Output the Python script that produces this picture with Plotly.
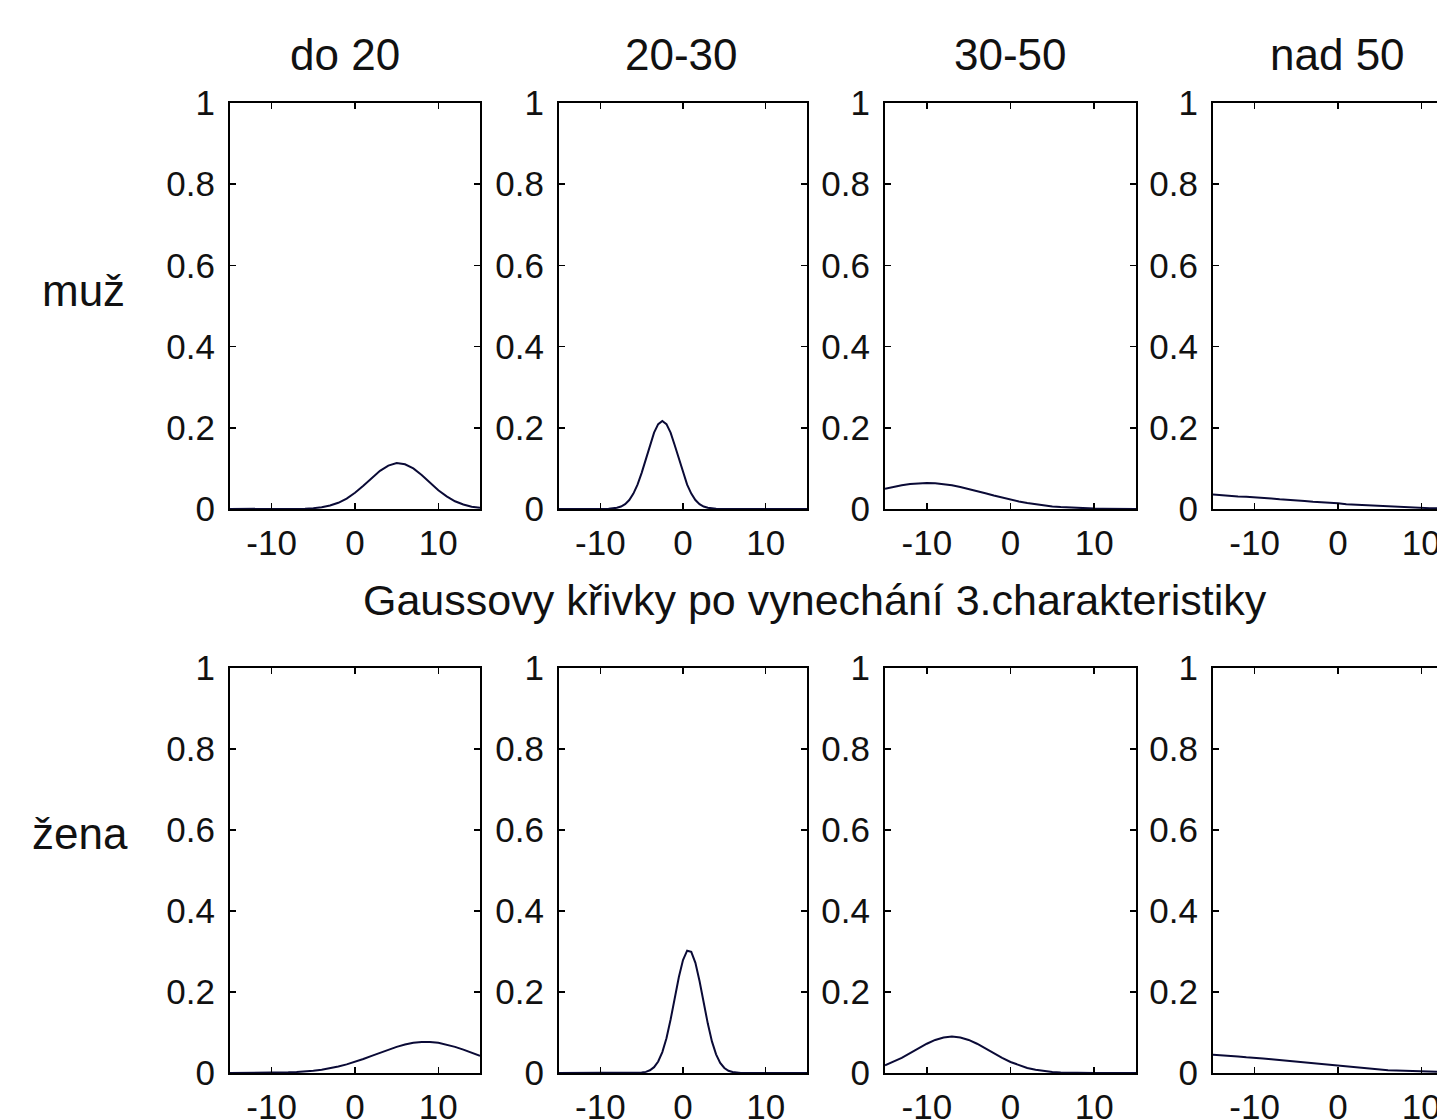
import plotly.graph_objects as go

# ---------------- data ----------------
age_groups = ["do 20", "20-30", "30-50", "nad 50"]
sexes = ["muž", "žena"]
main_title = "Gaussovy křivky po vynechání 3.charakteristiky"

x_tick_vals = [-10, 0, 10]
x_tick_labels = ["-10", "0", "10"]
y_tick_vals = [0, 0.2, 0.4, 0.6, 0.8, 1]
y_tick_labels = ["0", "0.2", "0.4", "0.6", "0.8", "1"]

x_grid = list(range(-15, 16))

# muž
x_muz_do20 = x_grid
y_muz_do20 = [0, 0, 0, 0, 0, 0, 0, 0.0001, 0.0004, 0.0009, 0.002, 0.0043, 0.0085,
              0.0153, 0.0257, 0.040, 0.057, 0.076, 0.094, 0.107, 0.113, 0.110,
              0.100, 0.084, 0.065, 0.046, 0.031, 0.019, 0.011, 0.0057, 0.0028]

x_muz_20_30 = [-15, -12, -10, -9, -8, -7.5, -7, -6.5, -6, -5.5, -5, -4.5, -4, -3.5,
               -3, -2.5, -2, -1.5, -1, -0.5, 0, 0.5, 1, 1.5, 2, 2.5, 3, 4, 6, 10, 15]
y_muz_20_30 = [0, 0, 0.0001, 0.0005, 0.0029, 0.0061, 0.012, 0.022, 0.038, 0.060,
               0.089, 0.123, 0.157, 0.188, 0.209, 0.217, 0.209, 0.188, 0.157, 0.123,
               0.089, 0.060, 0.038, 0.022, 0.012, 0.0061, 0.0029, 0.0005, 0, 0, 0]

x_muz_30_50 = x_grid
y_muz_30_50 = [0.0496, 0.0544, 0.0584, 0.0614, 0.0634, 0.064, 0.0634, 0.0614, 0.0584,
               0.0544, 0.0496, 0.0443, 0.0388, 0.0333, 0.028, 0.023, 0.0186, 0.0147,
               0.0115, 0.0087, 0.0064, 0.0047, 0.0034, 0.0023, 0.0016, 0.0011, 0.0007,
               0.0005, 0.0003, 0.0002, 0.0001]

x_muz_nad50 = x_grid
y_muz_nad50 = [0.036, 0.034, 0.033, 0.031, 0.030, 0.029, 0.027, 0.026, 0.024, 0.023,
               0.021, 0.020, 0.018, 0.017, 0.015, 0.014, 0.012, 0.011, 0.009, 0.008,
               0.007, 0.006, 0.005, 0.004, 0.003, 0.003, 0.002, 0.002, 0.001, 0.001,
               0.001]

# žena
x_zena_do20 = x_grid
y_zena_do20 = [0, 0, 0.0001, 0.0002, 0.0003, 0.0006, 0.001, 0.0016, 0.0025, 0.0038,
               0.0057, 0.0083, 0.0116, 0.0159, 0.0212, 0.0274, 0.0346, 0.0422, 0.050,
               0.0577, 0.0646, 0.0704, 0.0745, 0.0767, 0.0767, 0.0745, 0.0704, 0.0646,
               0.0577, 0.050, 0.0422]

x_zena_20_30 = [-15, -10, -7, -6, -5, -4.5, -4, -3.5, -3, -2.5, -2, -1.5, -1, -0.5, 0,
                0.5, 1, 1.5, 2, 2.5, 3, 3.5, 4, 4.5, 5, 5.5, 6, 7, 10, 15]
y_zena_20_30 = [0, 0, 0, 0.0001, 0.0011, 0.0028, 0.0067, 0.0144, 0.0284, 0.0517,
                0.086, 0.132, 0.184, 0.237, 0.279, 0.302, 0.299, 0.272, 0.227, 0.173,
                0.122, 0.078, 0.046, 0.025, 0.0124, 0.0056, 0.0024, 0.0003, 0, 0]

x_zena_30_50 = x_grid
y_zena_30_50 = [0.0189, 0.0272, 0.0374, 0.0489, 0.0609, 0.0723, 0.0816, 0.0878, 0.09,
                0.0878, 0.0816, 0.0723, 0.0609, 0.0489, 0.0374, 0.0272, 0.0189, 0.0124,
                0.0078, 0.0047, 0.0027, 0.0015, 0.0008, 0.0004, 0.0002, 0.0001, 0, 0,
                0, 0, 0]

x_zena_nad50 = x_grid
y_zena_nad50 = [0.045, 0.044, 0.042, 0.041, 0.039, 0.038, 0.036, 0.034, 0.032, 0.031,
                0.029, 0.027, 0.025, 0.022, 0.020, 0.018, 0.016, 0.014, 0.012, 0.010,
                0.008, 0.007, 0.006, 0.005, 0.004, 0.003, 0.002, 0.002, 0.001, 0.001,
                0.001]

series = [
    (x_muz_do20, y_muz_do20), (x_muz_20_30, y_muz_20_30),
    (x_muz_30_50, y_muz_30_50), (x_muz_nad50, y_muz_nad50),
    (x_zena_do20, y_zena_do20), (x_zena_20_30, y_zena_20_30),
    (x_zena_30_50, y_zena_30_50), (x_zena_nad50, y_zena_nad50),
]

# ---------------- layout ----------------
W, H = 1437, 1119
FONT = "Liberation Sans, Arial, sans-serif"
col_px = [(230, 480), (559, 807), (885, 1136), (1213, 1437)]
row_px = [(103, 509), (668, 1073)]
x_ranges = [[-15, 15], [-15, 15], [-15, 15], [-15, 11.88]]


def fx(px):
    return px / W


def fy(py):
    return 1 - py / H


fig = go.Figure()
layout = dict(
    width=W, height=H,
    margin=dict(l=0, r=0, t=0, b=0, pad=0),
    paper_bgcolor="white", plot_bgcolor="white",
    showlegend=False,
    font=dict(family=FONT, color="black"),
)

for i, (xs, ys) in enumerate(series):
    r, c = divmod(i, 4)
    n = i + 1
    xa = "x" if n == 1 else f"x{n}"
    ya = "y" if n == 1 else f"y{n}"
    fig.add_trace(go.Scatter(x=xs, y=ys, mode="lines", xaxis=xa, yaxis=ya,
                             line=dict(color="#0a0a36", width=2),
                             hoverinfo="skip"))
    x0, x1 = col_px[c]
    y0, y1 = row_px[r]
    common = dict(showgrid=False, zeroline=False, showline=True, linecolor="black",
                  linewidth=2, ticks="inside", ticklen=6, tickwidth=1.5,
                  tickcolor="black", automargin=False, ticklabeloverflow="allow",
                  tickfont=dict(size=35, family=FONT, color="#111111"))
    layout["xaxis" if n == 1 else f"xaxis{n}"] = dict(
        domain=[fx(x0), min(fx(x1), 1.0)], anchor=ya, range=x_ranges[c],
        tickvals=x_tick_vals, ticktext=x_tick_labels, mirror="ticks",
        ticklabelstandoff=2, **common)
    layout["yaxis" if n == 1 else f"yaxis{n}"] = dict(
        domain=[fy(y1), fy(y0)], anchor=xa, range=[0, 1],
        tickvals=y_tick_vals, ticktext=y_tick_labels,
        mirror=("ticks" if c < 3 else False),
        ticklabelstandoff=6, **common)

annotations = []
title_px = [345, 681, 1010, 1337]
for c, name in enumerate(age_groups):
    annotations.append(dict(text=name, x=fx(title_px[c]), y=fy(55), xref="paper",
                            yref="paper", showarrow=False, xanchor="center",
                            yanchor="middle",
                            font=dict(size=44, family=FONT, color="#111111")))
row_label_px = [(83, 290), (80, 833)]
for r, name in enumerate(sexes):
    px, py = row_label_px[r]
    annotations.append(dict(text=name, x=fx(px), y=fy(py), xref="paper",
                            yref="paper", showarrow=False, xanchor="center",
                            yanchor="middle",
                            font=dict(size=44, family=FONT, color="#111111")))
annotations.append(dict(text=main_title, x=fx(815), y=fy(600), xref="paper",
                        yref="paper", showarrow=False, xanchor="center",
                        yanchor="middle",
                        font=dict(size=43, family=FONT, color="#111111")))
layout["annotations"] = annotations

fig.update_layout(**layout)
fig.write_html(
    "out.html",
    config={"displayModeBar": False, "staticPlot": True},
    post_script="document.body.style.margin='0';document.body.style.overflow='hidden';",
)
